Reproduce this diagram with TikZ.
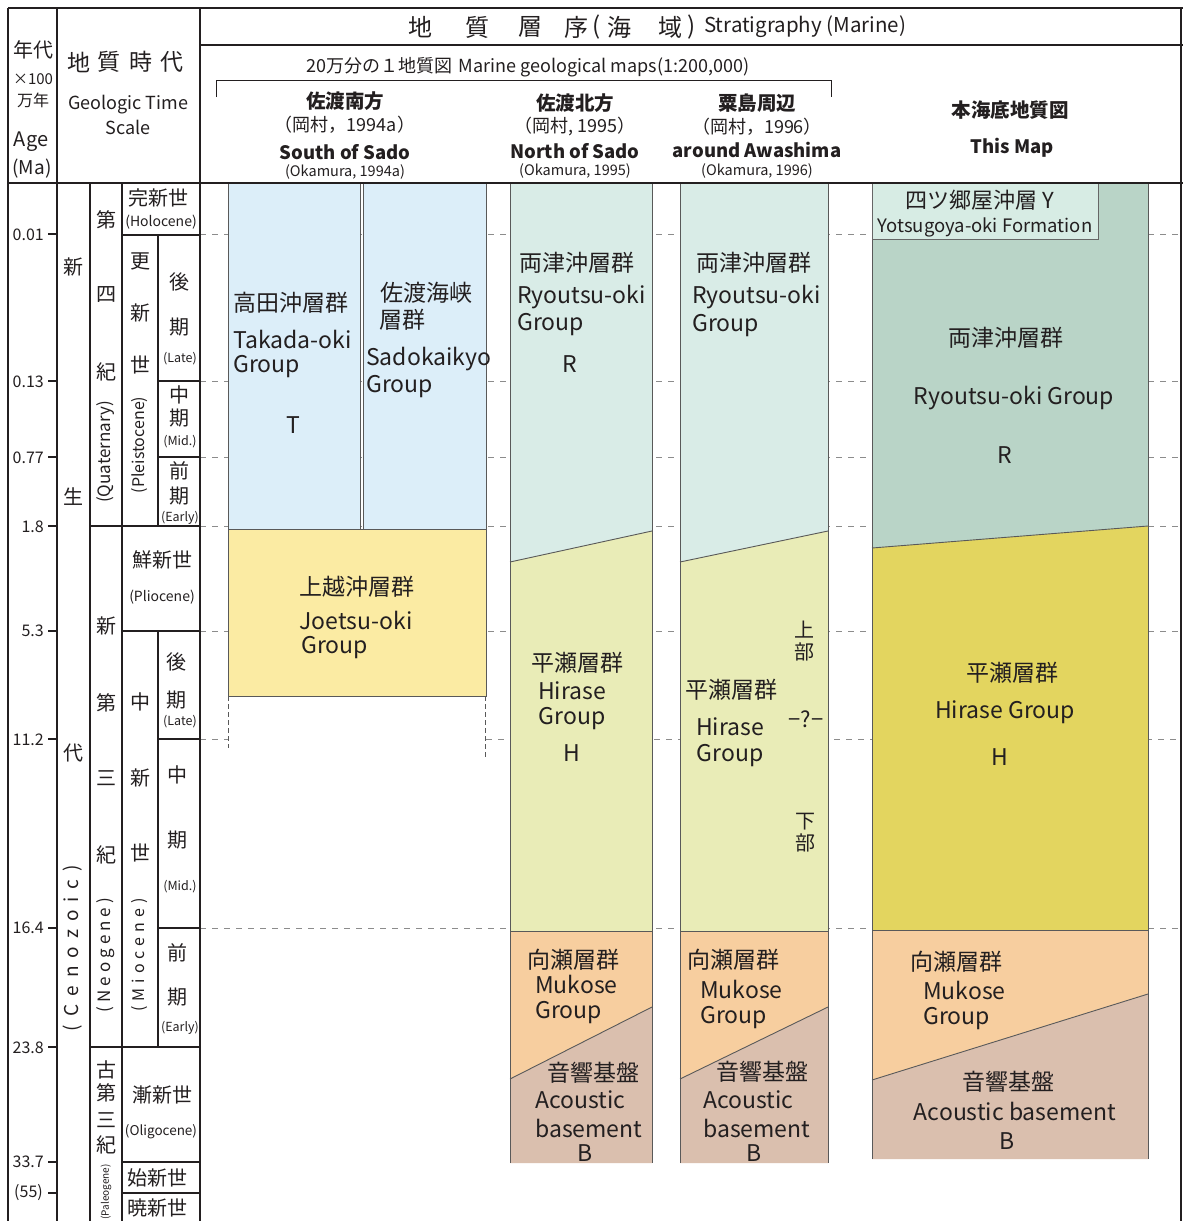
\documentclass[tikz,border=0pt]{standalone}
\usepackage{fontspec}
\setmainfont{Noto Sans CJK JP}
\newcommand\fsz[1]{\fontsize{#1}{#1}\selectfont}
\newcommand\gp[1]{\hspace{#1pt}}
\definecolor{ink}{HTML}{231F20}
\definecolor{cBlue}{HTML}{DCEEF9}
\definecolor{cJoe}{HTML}{FBEBA3}
\definecolor{cRa}{HTML}{D9ECE7}
\definecolor{cHa}{HTML}{E9ECB7}
\definecolor{cMuk}{HTML}{F7CE9F}
\definecolor{cBas}{HTML}{DABFAE}
\definecolor{cRb}{HTML}{B9D4C7}
\definecolor{cYot}{HTML}{D7ECE4}
\definecolor{cHb}{HTML}{E3D55F}
\begin{document}
\begin{tikzpicture}[x=1pt,y=-1pt,
  every node/.style={inner sep=0pt,text=ink},
  frame/.style={draw=ink,line width=1.6pt},
  rule/.style={draw=ink,line width=1.2pt},
  edge/.style={draw=black!65,line width=0.9pt},
  gapdash/.style={draw=black!45,line width=0.8pt,dash pattern=on 6pt off 6pt},
  lbl/.style={font=\fsz{23}},
  jp/.style={font=\fsz{20}},
  sm/.style={font=\fsz{14}},
  tiny/.style={font=\fsz{12.5}},
  agelbl/.style={font=\fsz{16},anchor=east},
  hd/.style={font=\fsz{19.5}\bfseries},
  hdlat/.style={font=\fsz{18.5}\bfseries},
  hdsub/.style={font=\fsz{18}},
  hdref/.style={font=\fsz{14.5}},
]
\useasboundingbox (0,0) rectangle (1183,1221);
\clip (0,0) rectangle (1183,1221);
\fill[white] (0,0) rectangle (1183,1221);

% ---------- dashed guide lines ----------
\foreach \yy in {234,381,457,526,631} \draw[gapdash] (200,\yy) -- (1181,\yy);
\draw[gapdash] (200,739) -- (228,739);
\draw[gapdash] (486,739) -- (1181,739);
\draw[gapdash] (200,928) -- (1181,928);

% ---------- South of Sado ----------
\path[fill=cBlue,edge] (228,183) rectangle (360,529);
\path[fill=cBlue,edge] (363,183) rectangle (486,529);
\path[fill=cJoe,edge] (228,529) rectangle (486,696);
\draw[edge,dash pattern=on 5pt off 3pt] (228,696) -- (228,748);
\draw[edge,dash pattern=on 5pt off 3pt] (485,696) -- (485,757);

% ---------- North of Sado ----------
\fill[cRa] (510,183) -- (652,183) -- (652,531) -- (510,562) -- cycle;
\fill[cHa] (510,562) -- (652,531) -- (652,931) -- (510,931) -- cycle;
\fill[cMuk] (510,931) -- (652,931) -- (652,1007) -- (510,1079) -- cycle;
\fill[cBas] (510,1079) -- (652,1007) -- (652,1163) -- (510,1163) -- cycle;
\draw[edge] (510,562) -- (652,531);
\draw[edge] (510,931) -- (652,931);
\draw[edge] (510,1079) -- (652,1007);
\draw[edge] (510,183) -- (510,1163);
\draw[edge] (652,183) -- (652,1163);

% ---------- around Awashima ----------
\fill[cRa] (680,183) -- (828,183) -- (828,531) -- (680,562) -- cycle;
\fill[cHa] (680,562) -- (828,531) -- (828,931) -- (680,931) -- cycle;
\fill[cMuk] (680,931) -- (828,931) -- (828,1007) -- (680,1079) -- cycle;
\fill[cBas] (680,1079) -- (828,1007) -- (828,1163) -- (680,1163) -- cycle;
\draw[edge] (680,562) -- (828,531);
\draw[edge] (680,931) -- (828,931);
\draw[edge] (680,1079) -- (828,1007);
\draw[edge] (680,183) -- (680,1163);
\draw[edge] (828,183) -- (828,1163);

% ---------- This Map ----------
\fill[cRb] (872,183) -- (1148,183) -- (1148,526) -- (872,548) -- cycle;
\fill[cHb] (872,548) -- (1148,526) -- (1148,930) -- (872,930) -- cycle;
\fill[cMuk] (872,930) -- (1148,930) -- (1148,994) -- (872,1080) -- cycle;
\fill[cBas] (872,1080) -- (1148,994) -- (1148,1159) -- (872,1159) -- cycle;
\draw[edge] (872,548) -- (1148,526);
\draw[edge] (872,930) -- (1148,930);
\draw[edge] (872,1080) -- (1148,994);
\draw[edge] (872,183) -- (872,1159);
\draw[edge] (1148,183) -- (1148,1159);
\path[fill=cYot,draw=black!60,line width=0.9pt] (872,183) rectangle (1098,239);

% ---------- frame ----------
\draw[frame] (8,8) -- (1183,8);
\draw[frame] (8,183) -- (1183,183);
\draw[frame] (200,45) -- (1183,45);
\draw[frame] (8,8) -- (8,1221);
\draw[frame] (57,8) -- (57,1221);
\draw[frame] (200,8) -- (200,1221);
\draw[rule] (1181,8) -- (1181,1221);
\draw[rule] (90,183) -- (90,1221);
\draw[rule] (122,183) -- (122,1221);
\draw[rule] (158,235) -- (158,526);
\draw[rule] (158,631) -- (158,1047);
\draw[rule] (122,235) -- (200,235);
\draw[rule] (158,381) -- (200,381);
\draw[rule] (158,457) -- (200,457);
\draw[rule] (90,526) -- (200,526);
\draw[rule] (122,631) -- (200,631);
\draw[rule] (158,739) -- (200,739);
\draw[rule] (158,928) -- (200,928);
\draw[rule] (90,1047) -- (200,1047);
\draw[rule] (122,1162) -- (200,1162);
\draw[rule] (122,1193) -- (200,1193);
\foreach \yy in {234,381,457,526,631,739,928,1047,1162,1193} \draw[rule] (48,\yy) -- (57,\yy);

% ---------- left headers ----------
\node[font=\fsz{20}] (ha1) at (33,50) {年代};
\node[font=\fsz{15}] (ha2) at (33,79) {×100};
\node[font=\fsz{16}] (ha3) at (33,100) {万年};
\node[font=\fsz{20}] (ha4) at (31,142) {Age};
\node[font=\fsz{19}] (ha5) at (32,169) {(Ma)};
\node[font=\fsz{23}] (hg1) at (79,62) {地};
\node[font=\fsz{23}] (hg2) at (109,62) {質};
\node[font=\fsz{23}] (hg3) at (141,62) {時};
\node[font=\fsz{23}] (hg4) at (172,62) {代};
\node[font=\fsz{18}] (hg5) at (128,105) {Geologic Time};
\node[font=\fsz{18}] (hg6) at (128,127) {Scale};

% ---------- ages ----------
\node[agelbl] (a1) at (44,235) {0.01};
\node[agelbl] (a2) at (44,382) {0.13};
\node[agelbl] (a3) at (44,458) {0.77};
\node[agelbl] (a4) at (44,527) {1.8};
\node[agelbl] (a5) at (44,631) {5.3};
\node[agelbl] (a6) at (44,740) {11.2};
\node[agelbl] (a7) at (44,928) {16.4};
\node[agelbl] (a8) at (44,1048) {23.8};
\node[agelbl] (a9) at (44,1162) {33.7};
\node[agelbl] (a10) at (43,1193) {(55)};

% ---------- era ----------
\node[jp] (e1) at (73,267) {新};
\node[jp] (e2) at (73,497) {生};
\node[jp] (e3) at (73,753) {代};
\node[font=\fsz{19},rotate=90] (e4) at (73,948) {(\gp{8}C\gp{8}e\gp{8}n\gp{8}o\gp{8}z\gp{8}o\gp{8}i\gp{8}c\gp{8})};

% ---------- periods ----------
\node[jp] (p1) at (106,220) {第};
\node[jp] (p2) at (106,295) {四};
\node[jp] (p3) at (106,372) {紀};
\node[font=\fsz{17},rotate=90] (p4) at (106,452) {(Quaternary)};
\node[jp] (p5) at (106,626) {新};
\node[jp] (p6) at (106,703) {第};
\node[jp] (p7) at (106,778) {三};
\node[jp] (p8) at (106,855) {紀};
\node[font=\fsz{17},rotate=90] (p9) at (106,955) {(\gp{4}N\gp{4}e\gp{4}o\gp{4}g\gp{4}e\gp{4}n\gp{4}e\gp{4})};
\node[jp] (p10) at (106,1070) {古};
\node[jp] (p11) at (106,1093) {第};
\node[jp] (p12) at (106,1120) {三};
\node[jp] (p13) at (106,1145) {紀};
\node[font=\fsz{10},rotate=90,anchor=east] (p14) at (106,1164) {(Paleogene)};

% ---------- epochs ----------
\node[jp] (ep1) at (158,198) {完新世};
\node[sm] (ep2) at (161,222) {(Holocene)};
\node[jp] (ep3) at (140,261) {更};
\node[jp] (ep4) at (140,313) {新};
\node[jp] (ep5) at (140,365) {世};
\node[font=\fsz{16},rotate=90] (ep6) at (140,445) {(Pleistocene)};
\node[jp] (ep7) at (179,282) {後};
\node[jp] (ep8) at (179,327) {期};
\node[tiny] (ep9) at (180,359) {(Late)};
\node[jp] (ep10) at (179,395) {中};
\node[jp] (ep11) at (179,418) {期};
\node[tiny] (ep12) at (180,442) {(Mid.)};
\node[jp] (ep13) at (179,471) {前};
\node[jp] (ep14) at (179,496) {期};
\node[tiny] (ep15) at (180,518) {(Early)};
\node[jp] (ep16) at (162,560) {鮮新世};
\node[sm] (ep17) at (162,597) {(Pliocene)};
\node[jp] (ep18) at (140,702) {中};
\node[jp] (ep19) at (140,778) {新};
\node[jp] (ep20) at (140,853) {世};
\node[font=\fsz{16},rotate=90] (ep21) at (140,955) {(\gp{5}M\gp{5}i\gp{5}o\gp{5}c\gp{5}e\gp{5}n\gp{5}e\gp{5})};
\node[jp] (ep22) at (176,662) {後};
\node[jp] (ep23) at (176,700) {期};
\node[tiny] (ep24) at (180,722) {(Late)};
\node[jp] (ep25) at (177,775) {中};
\node[jp] (ep26) at (177,840) {期};
\node[tiny] (ep27) at (180,887) {(Mid.)};
\node[jp] (ep28) at (177,953) {前};
\node[jp] (ep29) at (177,997) {期};
\node[tiny] (ep30) at (180,1028) {(Early)};
\node[jp] (ep31) at (162,1095) {漸新世};
\node[font=\fsz{13.5}] (ep32) at (161,1132) {(Oligocene)};
\node[jp] (ep33) at (157,1178) {始新世};
\node[jp] (ep34) at (157,1208) {暁新世};

% ---------- stratigraphy header ----------
\node[font=\fsz{24}] (s1) at (420,27) {地};
\node[font=\fsz{24}] (s2) at (477,27) {質};
\node[font=\fsz{24}] (s3) at (530,27) {層};
\node[font=\fsz{24}] (s4) at (576,27) {序};
\node[font=\fsz{24}] (s5) at (597,27) {(};
\node[font=\fsz{24}] (s6) at (619,27) {海};
\node[font=\fsz{24}] (s7) at (670,27) {域};
\node[font=\fsz{24}] (s8) at (692,27) {)};
\node[font=\fsz{20.5},anchor=west] (s9) at (704,27) {Stratigraphy (Marine)};
\node[font=\fsz{18}] (mg) at (528,67) {20万分の１地質図\gp{6}Marine geological maps(1:200,000)};
\draw[draw=ink,line width=1pt] (216,97) -- (216,80) -- (831,80) -- (831,97);

\node[hd] (c1a) at (345,101) {佐渡南方};
\node[hdsub] (c1b) at (345,125) {（岡村，1994a）};
\node[hdlat] (c1c) at (345,152) {South of Sado};
\node[hdref] (c1d) at (345,172) {(Okamura, 1994a)};
\node[hd] (c2a) at (575,103) {佐渡北方};
\node[hdsub] (c2b) at (575,127) {（岡村, 1995）};
\node[hdlat] (c2c) at (575,151) {North of Sado};
\node[hdref] (c2d) at (575,171) {(Okamura, 1995)};
\node[hd] (c3a) at (757,103) {粟島周辺};
\node[hdsub] (c3b) at (757,127) {（岡村，1996）};
\node[hdlat] (c3c) at (757,150) {around Awashima};
\node[hdref] (c3d) at (757,171) {(Okamura, 1996)};
\node[hd] (c4a) at (1010,110) {本海底地質図};
\node[hdlat] (c4b) at (1012,148) {This Map};

% ---------- South of Sado texts ----------
\node[lbl,anchor=west] (t1) at (233,303) {高田沖層群};
\node[lbl,anchor=west] (t2) at (233,339) {Takada-oki};
\node[lbl,anchor=west] (t3) at (233,367) {Group};
\node[lbl] (t4) at (293,425) {T};
\node[lbl,anchor=west] (t5) at (380,293) {佐渡海峡};
\node[lbl,anchor=west] (t6) at (379,320) {層群};
\node[lbl,anchor=west] (t7) at (366,359) {Sadokaikyo};
\node[lbl,anchor=west] (t8) at (366,387) {Group};
\node[lbl] (t9) at (357,587) {上越沖層群};
\node[lbl] (t10) at (356,620) {Joetsu-oki};
\node[lbl,anchor=west] (t11) at (301,648) {Group};

% ---------- North of Sado texts ----------
\node[lbl,anchor=west] (n1) at (519,263) {両津沖層群};
\node[lbl,anchor=west] (n2) at (517,297) {Ryoutsu-oki};
\node[lbl,anchor=west] (n3) at (517,325) {Group};
\node[lbl] (n4) at (570,364) {R};
\node[lbl] (n5) at (577,663) {平瀬層群};
\node[lbl] (n6) at (572,691) {Hirase};
\node[lbl] (n7) at (572,719) {Group};
\node[lbl] (n8) at (572,753) {H};
\node[lbl,anchor=west] (n9) at (527,960) {向瀬層群};
\node[lbl,anchor=west] (n10) at (535,984) {Mukose};
\node[lbl,anchor=west] (n11) at (535,1013) {Group};
\node[lbl,anchor=west] (n12) at (547,1073) {音響基盤};
\node[lbl,anchor=west] (n13) at (535,1100) {Acoustic};
\node[lbl,anchor=west] (n14) at (535,1128) {basement};
\node[lbl] (n15) at (585,1153) {B};

% ---------- Awashima texts ----------
\node[lbl,anchor=west] (w1) at (696,263) {両津沖層群};
\node[lbl,anchor=west] (w2) at (692,297) {Ryoutsu-oki};
\node[lbl,anchor=west] (w3) at (692,326) {Group};
\node[lbl] (w4) at (731,690) {平瀬層群};
\node[lbl] (w5) at (730,727) {Hirase};
\node[lbl] (w6) at (730,756) {Group};
\node[jp] (w7) at (804,630) {上};
\node[jp] (w8) at (804,652) {部};
\node[font=\fsz{22}] (w9) at (806,719) {−?−};
\node[jp] (w10) at (805,822) {下};
\node[jp] (w11) at (805,843) {部};
\node[lbl,anchor=west] (w12) at (687,960) {向瀬層群};
\node[lbl,anchor=west] (w13) at (700,989) {Mukose};
\node[lbl,anchor=west] (w14) at (700,1018) {Group};
\node[lbl,anchor=west] (w15) at (716,1072) {音響基盤};
\node[lbl,anchor=west] (w16) at (703,1100) {Acoustic};
\node[lbl,anchor=west] (w17) at (703,1128) {basement};
\node[lbl] (w18) at (754,1153) {B};

% ---------- This Map texts ----------
\node[font=\fsz{22}] (m1) at (980,200) {四ツ郷屋沖層 Y};
\node[font=\fsz{18.5}] (m2) at (985,227) {Yotsugoya-oki Formation};
\node[lbl] (m3) at (1006,338) {両津沖層群};
\node[lbl] (m4) at (1014,398) {Ryoutsu-oki Group};
\node[lbl] (m5) at (1005,455) {R};
\node[lbl] (m6) at (1012,673) {平瀬層群};
\node[lbl] (m7) at (1005,712) {Hirase Group};
\node[lbl] (m8) at (1000,757) {H};
\node[lbl,anchor=west] (m9) at (910,962) {向瀬層群};
\node[lbl,anchor=west] (m10) at (923,990) {Mukose};
\node[lbl,anchor=west] (m11) at (923,1019) {Group};
\node[lbl] (m12) at (1008,1082) {音響基盤};
\node[lbl] (m13) at (1015,1111) {Acoustic basement};
\node[lbl] (m14) at (1007,1141) {B};
\end{tikzpicture}
\end{document}
